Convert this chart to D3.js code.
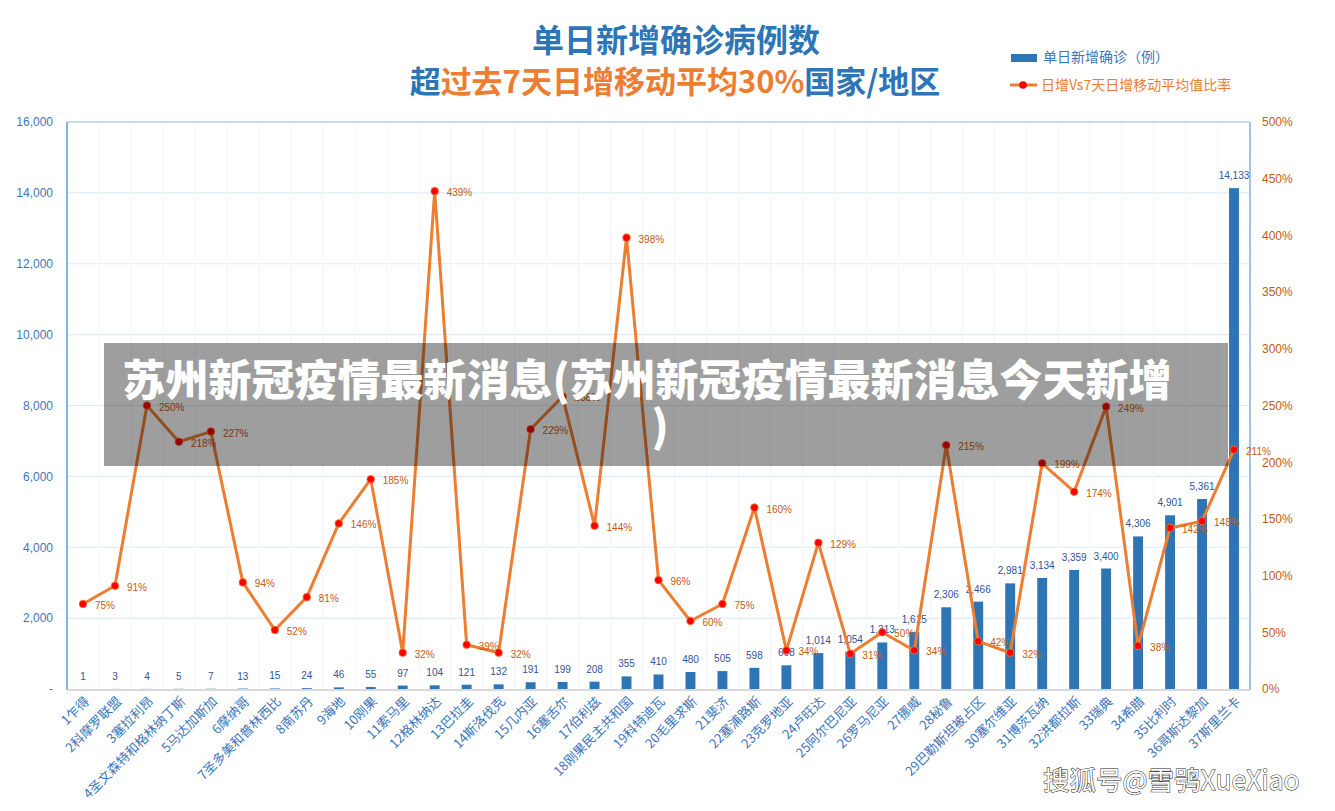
<!DOCTYPE html>
<html><head><meta charset="utf-8">
<script src="https://cdn.jsdelivr.net/npm/d3@7"></script>
<style>
html,body{margin:0;padding:0;background:#fff;}
svg{display:block;}
</style></head>
<body>
<svg id="chart" width="1335" height="811"></svg>
<script>
const countries = ["乍得","科摩罗联盟","塞拉利昂","圣文森特和格林纳丁斯","马达加斯加","摩纳哥","圣多美和普林西比","南苏丹","海地","刚果","索马里","格林纳达","巴拉圭","斯洛伐克","几内亚","塞舌尔","伯利兹","刚果民主共和国","科特迪瓦","毛里求斯","斐济","塞浦路斯","克罗地亚","卢旺达","阿尔巴尼亚","罗马尼亚","挪威","秘鲁","巴勒斯坦被占区","塞尔维亚","博茨瓦纳","洪都拉斯","瑞典","希腊","比利时","哥斯达黎加","斯里兰卡"];
const dailyCases = [1,3,4,5,7,13,15,24,46,55,97,104,121,132,191,199,208,355,410,480,505,598,668,1014,1054,1313,1615,2306,2466,2981,3134,3359,3400,4306,4901,5361,14133];
const ratioPct = [75,91,250,218,227,94,52,81,146,185,32,439,39,32,229,258,144,398,96,60,75,160,34,129,31,50,34,215,42,32,199,174,249,38,142,148,211];
const leftTicks = [0,2000,4000,6000,8000,10000,12000,14000,16000];
const rightTicks = [0,50,100,150,200,250,300,350,400,450,500];
const titleLine1 = "单日新增确诊病例数";
const titleLine2 = [["超","#2E75B6"],["过去7天日增移动平均30%","#ED7D31"],["国家/地区","#2E75B6"]];
const legendLabels = ["单日新增确诊（例）","日增Vs7天日增移动平均值比率"];
const bannerLines = ["苏州新冠疫情最新消息(苏州新冠疫情最新消息今天新增",")"];
const watermark = "搜狐号@雪鸮XueXiao";

const labels = countries.map((c,i)=> (i+1)+c);
const svg = d3.select("#chart");
const FONT = "'Liberation Sans','Noto Sans CJK SC',Arial,sans-serif";
const CJK = "'Noto Sans CJK SC','Liberation Sans',sans-serif";
const L = 67, R = 1250, T = 122, B = 689;

const x = d3.scaleBand().domain(labels).range([L,R]).paddingInner(0.69).paddingOuter(0.345);
const xc = d => x(d) + x.bandwidth()/2;
const yL = d3.scaleLinear().domain([0,16000]).range([B,T]);
const yR = d3.scaleLinear().domain([0,500]).range([B,T]);
const step = x.step();

// gridlines
svg.append("g").selectAll("line.h").data(leftTicks.slice(1)).join("line")
  .attr("x1",L).attr("x2",R).attr("y1",d=>yL(d)).attr("y2",d=>yL(d))
  .attr("stroke","#deebf7").attr("stroke-width",1.2);
svg.append("g").selectAll("line.v").data(labels.slice(1)).join("line")
  .attr("x1",d=>xc(d)-step/2).attr("x2",d=>xc(d)-step/2).attr("y1",T).attr("y2",B)
  .attr("stroke","#f2f5fa").attr("stroke-width",1);

// bars
svg.append("g").selectAll("rect").data(dailyCases).join("rect")
  .attr("x",(d,i)=>x(labels[i])).attr("width",x.bandwidth())
  .attr("y",d=>yL(d)).attr("height",d=>B-yL(d))
  .attr("fill","#2E75B6");
svg.append("g").selectAll("text").data(dailyCases).join("text")
  .attr("x",(d,i)=>xc(labels[i])).attr("y",d=>yL(d)-9)
  .attr("text-anchor","middle").attr("font-family",FONT).attr("font-size",10)
  .attr("fill","#2F5597").text(d=>d3.format(",")(d));

// frame
svg.append("line").attr("x1",L).attr("x2",R).attr("y1",T).attr("y2",T).attr("stroke","#9dc3e6").attr("stroke-width",1.2);
svg.append("line").attr("x1",R).attr("x2",R).attr("y1",T).attr("y2",B+1).attr("stroke","#9dc3e6").attr("stroke-width",2);
svg.append("line").attr("x1",L).attr("x2",L).attr("y1",T).attr("y2",B+1).attr("stroke","#5b9bd5").attr("stroke-width",1.5);
svg.append("line").attr("x1",L).attr("x2",R).attr("y1",B+1).attr("y2",B+1).attr("stroke","#d9d9d9").attr("stroke-width",2);

// left axis
const gl = svg.append("g").attr("transform",`translate(${L},0)`)
  .call(d3.axisLeft(yL).tickValues(leftTicks).tickSize(0).tickPadding(14)
    .tickFormat(d=> d===0 ? "-" : d3.format(",")(d)));
gl.select(".domain").remove();
gl.selectAll("text").attr("font-family",FONT).attr("font-size",12).attr("fill","#3E75B8");

// right axis
const gr = svg.append("g").attr("transform",`translate(${R},0)`)
  .call(d3.axisRight(yR).tickValues(rightTicks).tickSize(0).tickPadding(12).tickFormat(d=>d+"%"));
gr.select(".domain").remove();
gr.selectAll("text").attr("font-family",FONT).attr("font-size",12).attr("fill","#C55A11");

// x labels
svg.append("g").selectAll("text").data(labels).join("text")
  .attr("transform",d=>`translate(${xc(d)+4},${B+10}) rotate(-45)`)
  .attr("text-anchor","end").attr("dy","0.35em")
  .attr("font-family",CJK).attr("font-size",13).attr("fill","#3E75B8").text(d=>d);

// line
const line = d3.line().x((d,i)=>xc(labels[i])).y(d=>yR(d));
svg.append("path").datum(ratioPct).attr("d",line).attr("fill","none")
  .attr("stroke","#ED7D31").attr("stroke-width",3).attr("stroke-linejoin","round");
svg.append("g").selectAll("circle").data(ratioPct).join("circle")
  .attr("cx",(d,i)=>xc(labels[i])).attr("cy",d=>yR(d)).attr("r",3.8)
  .attr("fill","#FF0000").attr("stroke","#ED7D31").attr("stroke-width",0.8);
svg.append("g").selectAll("text").data(ratioPct).join("text")
  .attr("x",(d,i)=>xc(labels[i])+12).attr("y",d=>yR(d)+5)
  .attr("font-family",FONT).attr("font-size",10).attr("fill","#C55A11").text(d=>d+"%");

// title
svg.append("text").attr("x",676).attr("y",52).attr("text-anchor","middle")
  .attr("font-family",CJK).attr("font-weight",700).attr("font-size",32).attr("fill","#2E75B6").text(titleLine1);
const t2 = svg.append("text").attr("x",675).attr("y",93).attr("text-anchor","middle")
  .attr("font-family",CJK).attr("font-weight",700).attr("font-size",31);
t2.selectAll("tspan").data(titleLine2).join("tspan").attr("fill",d=>d[1]).text(d=>d[0]);

// legend
svg.append("rect").attr("x",1011).attr("y",54).attr("width",26).attr("height",8).attr("fill","#2E75B6");
svg.append("text").attr("x",1043).attr("y",62).attr("font-family",CJK).attr("font-size",14).attr("fill","#3E75B8").text(legendLabels[0]);
svg.append("line").attr("x1",1010).attr("x2",1037).attr("y1",85).attr("y2",85).attr("stroke","#ED7D31").attr("stroke-width",3);
svg.append("circle").attr("cx",1023).attr("cy",85).attr("r",3.8).attr("fill","#FF0000");
svg.append("text").attr("x",1041).attr("y",90).attr("font-family",CJK).attr("font-size",14).attr("fill","#ED7D31").text(legendLabels[1]);

// overlay banner
svg.append("rect").attr("x",104).attr("y",343).attr("width",1124).attr("height",123)
  .attr("fill","#000").attr("fill-opacity",0.38);
svg.append("g").selectAll("text").data(bannerLines).join("text")
  .attr("x",(d,i)=> i===0 ? 647 : 660).attr("y",(d,i)=>396+i*46)
  .attr("text-anchor","middle").attr("font-family",CJK).attr("font-weight",900)
  .attr("font-size",43).attr("fill","#fff").text(d=>d);

// watermark
svg.append("text").attr("x",1043).attr("y",790).attr("font-family",CJK).attr("font-size",26.5)
  .attr("fill","#fff").attr("stroke","#222").attr("stroke-width",1).attr("paint-order","stroke")
  .text(watermark);
</script>
</body></html>
